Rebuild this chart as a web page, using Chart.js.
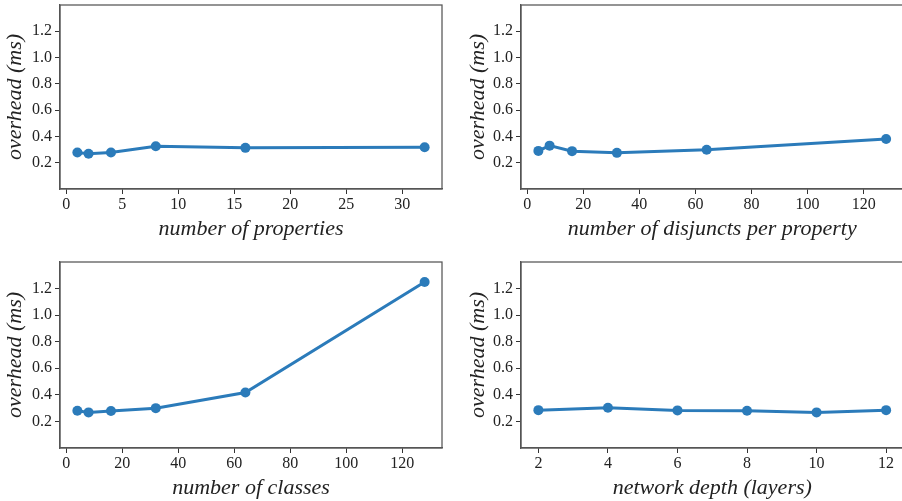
<!DOCTYPE html>
<html>
<head>
<meta charset="utf-8">
<script src="https://cdn.jsdelivr.net/npm/chart.js@4"></script>
<style>
  html, body { margin: 0; padding: 0; background: #fff; overflow: hidden; }
  body { width: 902px; height: 501px; position: relative; }
  .panel { position: absolute; }
</style>
</head>
<body>
<div class="panel" style="left:0;top:0;width:451px;height:250px"><canvas id="c1"></canvas></div>
<div class="panel" style="left:451px;top:0;width:460px;height:250px"><canvas id="c2"></canvas></div>
<div class="panel" style="left:0;top:250px;width:451px;height:251px"><canvas id="c3"></canvas></div>
<div class="panel" style="left:451px;top:250px;width:460px;height:251px"><canvas id="c4"></canvas></div>
<script>
// data
const numProperties = [1, 2, 4, 8, 16, 32];
const overheadProperties = [0.278, 0.268, 0.278, 0.325, 0.313, 0.318];

const numDisjuncts = [4, 8, 16, 32, 64, 128];
const overheadDisjuncts = [0.29, 0.33, 0.288, 0.275, 0.298, 0.38];

const numClasses = [4, 8, 16, 32, 64, 128];
const overheadClasses = [0.28, 0.268, 0.278, 0.30, 0.418, 1.25];

const networkDepth = [2, 4, 6, 8, 10, 12];
const overheadDepth = [0.285, 0.303, 0.283, 0.28, 0.268, 0.285];

const yTicks = [0.2, 0.4, 0.6, 0.8, 1.0, 1.2];

const BLUE = "#2b7bba";
const SPINE = "#555555";
const SERIF = "'Liberation Serif', 'DejaVu Serif', serif";

// draw the top and right spines (matplotlib box)
const boxPlugin = {
  id: "box",
  afterDraw(chart) {
    const { ctx, chartArea: a } = chart;
    ctx.save();
    ctx.strokeStyle = SPINE;
    ctx.lineWidth = 1.25;
    ctx.strokeRect(a.left, a.top, a.right - a.left, a.bottom - a.top);
    ctx.restore();
  }
};

function makeChart(id, xs, ys, opts) {
  const el = document.getElementById(id);
  el.width = opts.w; el.height = opts.h;
  el.style.width = opts.w + "px"; el.style.height = opts.h + "px";
  return new Chart(el, {
    type: "line",
    data: {
      datasets: [{
        data: xs.map((x, i) => ({ x, y: ys[i] })),
        borderColor: BLUE,
        backgroundColor: BLUE,
        borderWidth: 3,
        pointRadius: 5,
        pointBorderWidth: 0,
        pointBackgroundColor: BLUE,
        tension: 0,
        clip: false
      }]
    },
    options: {
      responsive: false,
      animation: false,
      events: [],
      layout: { padding: { left: 0, top: opts.top, right: opts.right, bottom: opts.bottom } },
      plugins: { legend: { display: false }, tooltip: { enabled: false } },
      scales: {
        x: {
          type: "linear",
          min: opts.xmin, max: opts.xmax,
          afterBuildTicks: (s) => { s.ticks = opts.xticks.map(v => ({ value: v })); },
          afterFit: (s) => { s.height = 53; s.paddingLeft = 0; s.paddingRight = 0; },
          ticks: { color: "#222", font: { family: SERIF, size: 16 }, padding: 1, maxRotation: 0 },
          grid: { drawOnChartArea: false, drawTicks: true, tickLength: 5, color: "#333", lineWidth: 1 },
          border: { color: SPINE, width: 1.25 },
          title: { display: true, text: opts.xlabel, color: "#222", font: { family: SERIF, size: 22, style: "italic" }, padding: { top: 0, bottom: 0 } }
        },
        y: {
          min: 0, max: 1.4,
          afterBuildTicks: (s) => { s.ticks = yTicks.map(v => ({ value: v })); },
          afterFit: (s) => { s.width = opts.yw; s.paddingTop = 0; s.paddingBottom = 0; },
          ticks: { color: "#222", font: { family: SERIF, size: 16 }, padding: 3, callback: (v) => v.toFixed(1) },
          grid: { drawOnChartArea: false, drawTicks: true, tickLength: 5, color: "#333", lineWidth: 1 },
          border: { color: SPINE, width: 1.25 },
          title: { display: true, text: "overhead (ms)", color: "#222", font: { family: SERIF, size: 22, style: "italic" }, padding: { top: opts.ytp, bottom: 0 } }
        }
      }
    },
    plugins: [boxPlugin]
  });
}

makeChart("c1", numProperties, overheadProperties, {
  w: 451, h: 250, top: 3, right: 9, bottom: 8, yw: 60, ytp: 2,
  xmin: -0.55, xmax: 33.55, xticks: [0, 5, 10, 15, 20, 25, 30],
  xlabel: "number of properties"
});
makeChart("c2", numDisjuncts, overheadDisjuncts, {
  w: 460, h: 250, top: 3, right: 7.5, bottom: 8, yw: 70, ytp: 14,
  xmin: -2.2, xmax: 134.2, xticks: [0, 20, 40, 60, 80, 100, 120],
  xlabel: "number of disjuncts per property"
});
makeChart("c3", numClasses, overheadClasses, {
  w: 451, h: 251, top: 12, right: 9, bottom: 0, yw: 60, ytp: 2,
  xmin: -2.2, xmax: 134.2, xticks: [0, 20, 40, 60, 80, 100, 120],
  xlabel: "number of classes"
});
makeChart("c4", networkDepth, overheadDepth, {
  w: 460, h: 251, top: 12, right: 7.5, bottom: 0, yw: 70, ytp: 14,
  xmin: 1.5, xmax: 12.5, xticks: [2, 4, 6, 8, 10, 12],
  xlabel: "network depth (layers)"
});
</script>
</body>
</html>
